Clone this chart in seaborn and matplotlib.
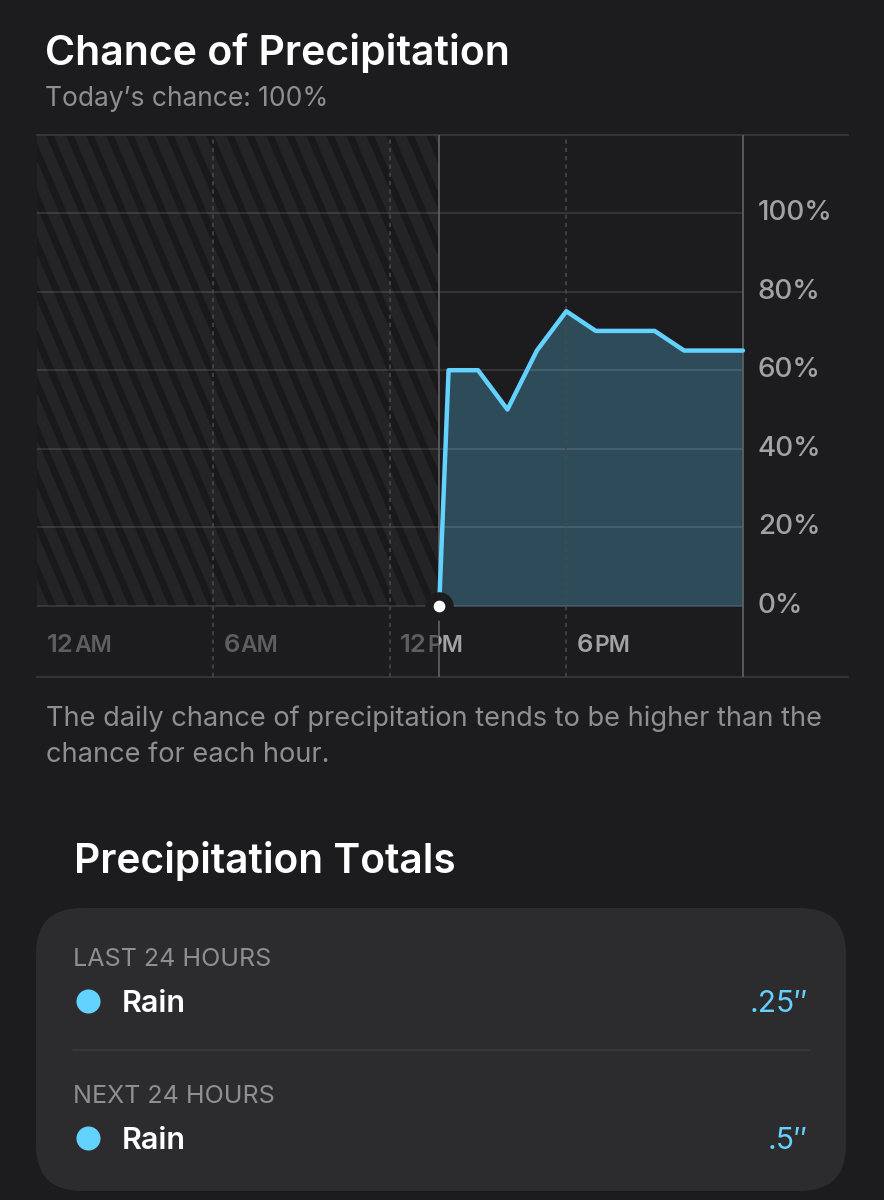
"""
Chance of Precipitation (style app Météo iOS, thème sombre).
Courbe horaire de probabilité de pluie + carte des cumuls.
"""

import numpy as np
import pandas as pd
import matplotlib
matplotlib.use("Agg")
import matplotlib.pyplot as plt
import seaborn as sns
from matplotlib.patches import Rectangle, FancyBboxPatch
from matplotlib.collections import LineCollection
from matplotlib.transforms import Bbox, TransformedBbox

HEURE_ACTUELLE = 13.68          # trait "maintenant" (~1h40 PM)
HEURES = [14, 15, 16, 17, 18, 19, 20, 21, 22, 23, 24]
CHANCE = [60, 60, 50, 65, 75, 70, 70, 70, 65, 65, 65]

Y_TICKS = [0, 20, 40, 60, 80, 100]
Y_LABELS = ["0%", "20%", "40%", "60%", "80%", "100%"]
X_TICKS = [0, 6, 12, 18]
X_NUMS = ["12", "6", "12", "6"]
X_SUFFIXES = ["AM", "AM", "PM", "PM"]

TITRE = "Chance of Precipitation"
SOUS_TITRE = "Today\u2019s chance: 100%"
DESCRIPTION = ["The daily chance of precipitation tends to be higher than the",
               "chance for each hour."]
TITRE_TOTAUX = "Precipitation Totals"
PERIODES = ["LAST 24 HOURS", "NEXT 24 HOURS"]
TYPES = ["Rain", "Rain"]
CUMULS = [".25\u2033", ".5\u2033"]

# Couleurs
FOND = "#1c1c1e"
CARTE = "#2c2c2e"
BLEU = "#64d2ff"
REMPLISSAGE = "#2d4b59"
GRIS_TEXTE = "#8e8e93"
GRIS_AXE = "#a1a1a6"
GRIS_PASSE = "#5e5e62"

sns.set_theme(style="dark", rc={"axes.facecolor": FOND, "figure.facecolor": FOND})
plt.rcParams["font.family"] = ["Inter", "DejaVu Sans"]

fig = plt.figure(figsize=(8.84, 12), dpi=100)

# Axe de fond en pixels (y vers le bas) pour les textes et la carte
bg = fig.add_axes([0, 0, 1, 1], zorder=-1)
bg.set_xlim(0, 884)
bg.set_ylim(1200, 0)
bg.axis("off")

# Axe principal du graphique
YMIN, YMAX = -18.07, 119.85
XMAX = 27.57
ax = fig.add_axes([36.5 / 884, 1 - 677 / 1200, (848 - 36.5) / 884, (677 - 135) / 1200])
ax.set_xlim(0, XMAX)
ax.set_ylim(YMIN, YMAX)
ax.set_xticks([])
ax.set_yticks([])
ax.grid(False)
for cote in ["left", "right"]:
    ax.spines[cote].set_visible(False)
for cote in ["top", "bottom"]:
    ax.spines[cote].set_visible(True)
    ax.spines[cote].set_color("#3a3a3c")
    ax.spines[cote].set_linewidth(1.2)

# Zone passée hachurée
ax.add_patch(Rectangle((0, 0), HEURE_ACTUELLE, YMAX, facecolor="#242426",
                       edgecolor="none", zorder=0))
pente = 0.0575  # heures par point de %
segments = [[(x0, YMAX + 5), (x0 + pente * (YMAX + 10), -5)]
            for x0 in np.arange(-8, HEURE_ACTUELLE + 1, 0.68)]
rayures = LineCollection(segments, colors="#19191b", linewidths=5.0, zorder=1)
ax.add_collection(rayures, autolim=False)
rayures.set_clip_path(None)
rayures.set_clip_box(TransformedBbox(Bbox([[0, 0], [HEURE_ACTUELLE, YMAX]]), ax.transData))

# Surface + courbe
df = pd.DataFrame({"heure": [HEURE_ACTUELLE] + HEURES, "chance": [0] + CHANCE})
ax.fill_between(df["heure"], df["chance"], 0, color=REMPLISSAGE, lw=0, zorder=2)

# Grille horizontale et repères verticaux
ax.hlines(Y_TICKS, 0, 24, colors="white", alpha=0.13, lw=1.2, zorder=3)
ax.vlines(X_TICKS[1:], YMIN, YMAX, colors="#48484a", lw=1.2,
          linestyles=(0, (2.5, 2.5)), zorder=3)
ax.vlines([HEURE_ACTUELLE, 24], YMIN, YMAX, colors="#5e5e62", lw=1.3, zorder=3)

sns.lineplot(data=df, x="heure", y="chance", ax=ax, color=BLEU, lw=3.2,
             sort=True, zorder=4)
ax.set_xlabel("")
ax.set_ylabel("")

# Point "maintenant"
ax.scatter([HEURE_ACTUELLE], [0], s=380, color=FOND, zorder=5, clip_on=False)
ax.scatter([HEURE_ACTUELLE], [0], s=55, color="white", zorder=6, clip_on=False)

# Étiquettes de l'axe Y (à droite)
for v, lab in zip(Y_TICKS, Y_LABELS):
    ax.text(24.51, v, lab, ha="left", va="center", fontsize=20,
            fontweight="medium", color=GRIS_AXE)

# Étiquettes de l'axe X : gris foncé dans le passé, clair après "maintenant"
clip_passe = TransformedBbox(Bbox([[-1, YMIN - 5], [HEURE_ACTUELLE, YMAX]]), ax.transData)
clip_futur = TransformedBbox(Bbox([[HEURE_ACTUELLE, YMIN - 5], [XMAX + 1, YMAX]]), ax.transData)
for xt, num, suf in zip(X_TICKS, X_NUMS, X_SUFFIXES):
    for couleur, boite in [(GRIS_PASSE, clip_passe), (GRIS_AXE, clip_futur)]:
        t1 = ax.text(xt + 0.36, -11.7, num, ha="left", va="baseline", fontsize=18.5,
                     fontweight="semibold", color=couleur, clip_on=True)
        t1.set_clip_box(boite)
        t1.set_clip_path(None)
        t2 = ax.annotate(suf, xy=(1, 0), xycoords=t1, xytext=(0.5, 0),
                         textcoords="offset points", ha="left", va="bottom",
                         fontsize=16.5, fontweight="semibold", color=couleur,
                         annotation_clip=False)
        t2.set_clip_on(True)
        t2.set_clip_box(boite)

# Titres et texte explicatif
bg.text(45, 65, TITRE, ha="left", va="baseline", fontsize=29.5,
        fontweight="semibold", color="white")
bg.text(45, 106, SOUS_TITRE, ha="left", va="baseline", fontsize=19,
        color=GRIS_TEXTE)
for i, ligne in enumerate(DESCRIPTION):
    bg.text(46, 726 + 36 * i, ligne, ha="left", va="baseline", fontsize=19.6,
            color=GRIS_TEXTE)
bg.text(74, 873, TITRE_TOTAUX, ha="left", va="baseline", fontsize=29.3,
        fontweight="semibold", color="white")

# Carte des cumuls
bg.add_patch(FancyBboxPatch((36, 908), 810, 283,
                            boxstyle="round,pad=0,rounding_size=46",
                            facecolor=CARTE, edgecolor="none"))
bg.plot([73, 810], [1050, 1050], color="#3a3a3c", lw=1.2)
for i, (periode, typ, cumul) in enumerate(zip(PERIODES, TYPES, CUMULS)):
    y0 = 966 + 137 * i
    bg.text(73, y0, periode, ha="left", va="baseline", fontsize=18,
            color=GRIS_TEXTE)
    bg.scatter([88], [y0 + 35], s=300, color=BLEU, lw=0)
    bg.text(122, y0 + 46, typ, ha="left", va="baseline", fontsize=22,
            fontweight="semibold", color="white")
    bg.text(808, y0 + 46, cumul, ha="right", va="baseline", fontsize=21.5,
            color=BLEU)

plt.savefig("out.png", dpi=100, facecolor=FOND)
